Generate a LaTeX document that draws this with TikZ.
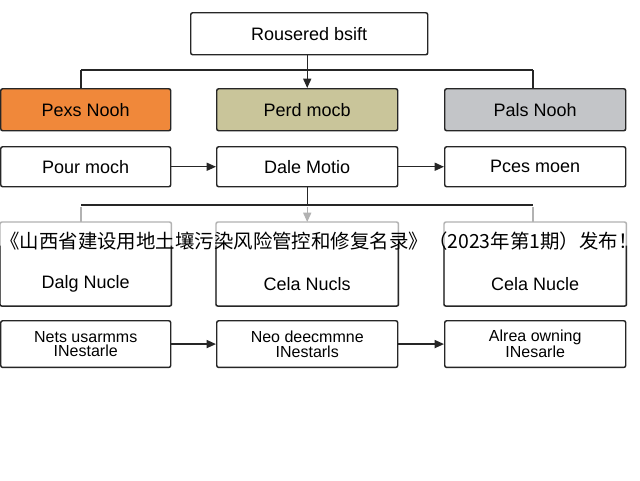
\documentclass[tikz,border=0pt]{standalone}
\usepackage{fontspec}
\usepackage{graphicx}
\setmainfont{Liberation Sans}
\newfontfamily\cjk{Noto Sans CJK SC}
\usetikzlibrary{arrows.meta,calc}
\begin{document}
\begin{tikzpicture}[x=0.75pt,y=-0.75pt,
  box/.style={draw=black!85,line width=1.1pt,rounded corners=1.5pt,minimum height=31.5pt,font=\fontsize{13.5}{15}\selectfont,anchor=north west,inner sep=0pt},
  tall/.style={box,minimum height=35pt,align=center,font=\fontsize{12}{11}\selectfont},
  con/.style={line width=1.1pt,black!85},
  arr/.style={con,-{Triangle[length=7pt,width=6pt]}},
  gcon/.style={line width=1.1pt,black!30}]
\useasboundingbox (0,0) rectangle (640,480);
\fill[white] (0,0) rectangle (640,480);
\node[box,minimum width=177.75pt] (top) at (190,12) {Rousered bsift};
\node[box,minimum width=127.5pt,fill={rgb,255:red,240;green,136;blue,58}] (a1) at (0,88) {Pexs Nooh};
\node[box,minimum width=135.75pt,fill={rgb,255:red,201;green,197;blue,154}] (b1) at (216,88) {Perd mocb};
\node[box,minimum width=135.75pt,fill={rgb,255:red,195;green,197;blue,200}] (c1) at (444,88) {Pals Nooh};
\node[box,minimum height=30pt,minimum width=127.5pt] (a2) at (0,146) {Pour moch};
\node[box,minimum height=30pt,minimum width=135.75pt] (b2) at (216,146) {Dale Motio};
\node[box,minimum height=30pt,minimum width=135.75pt] (c2) at (444,146) {Pces moen};
\draw[arr] (b1.north |- top.south) -- (b1.north);
\draw[con] (81,70) -- (533,70);
\draw[con] (81,70) -- (a1.north -| 81,0);
\draw[con] (533,70) -- (c1.north -| 533,0);
\draw[arr] (a2.east) -- (b2.west);
\draw[arr] (b2.east) -- (c2.west);
% row3
\node[box,minimum height=62pt,minimum width=127.5pt,draw=none] (a3) at (0,222) {};
\node[box,minimum height=62pt,minimum width=135.75pt,draw=none] (b3) at (216,222) {};
\node[box,minimum height=62pt,minimum width=135.75pt,draw=none] (c3) at (444,222) {};
\foreach \n/\t in {a3/Dalg Nucle,b3/Cela Nucls,c3/Cela Nucle}{
  \draw[gcon,rounded corners=1.5pt] (\n.south west) |- (\n.north east) -- (\n.south east);
  \draw[con,rounded corners=1.5pt] ($(\n.south west)!0.72!(\n.north west)$) -- (\n.south west) -- (\n.south east) -- ($(\n.south east)!0.72!(\n.north east)$);
  \node[font=\fontsize{13.5}{15}\selectfont] at ($(\n.south)+(0,-22)$) {\t};
}
\draw[con] (b2.south) -- (b2.south |- 0,205);
\draw[con] (81,205) -- (533,205);
\draw[gcon] (81,207) -- (81,222);
\draw[gcon] (533,207) -- (533,222);
\draw[gcon,-{Triangle[length=7pt,width=6pt]}] (b3.north |- 0,207) -- (b3.north);
\node[tall,minimum width=127.5pt] (a4) at (0,320) {Nets usarmms\\INestarle};
\node[tall,minimum width=135.75pt] (b4) at (216,320) {Neo deecmmne\\INestarls};
\node[tall,minimum width=135.75pt] (c4) at (444,320) {Alrea owning\\INesarle};
\draw[arr] (a4.east) -- (b4.west);
\draw[arr] (b4.east) -- (c4.west);
\node[inner sep=0pt,anchor=west] (cap) at (0,241) {\resizebox{478pt}{!}{\cjk\fontsize{15.5}{17}\selectfont 《山西省建设用地土壤污染风险管控和修复名录》（2023年第1期）发布！}};
\end{tikzpicture}
\end{document}
